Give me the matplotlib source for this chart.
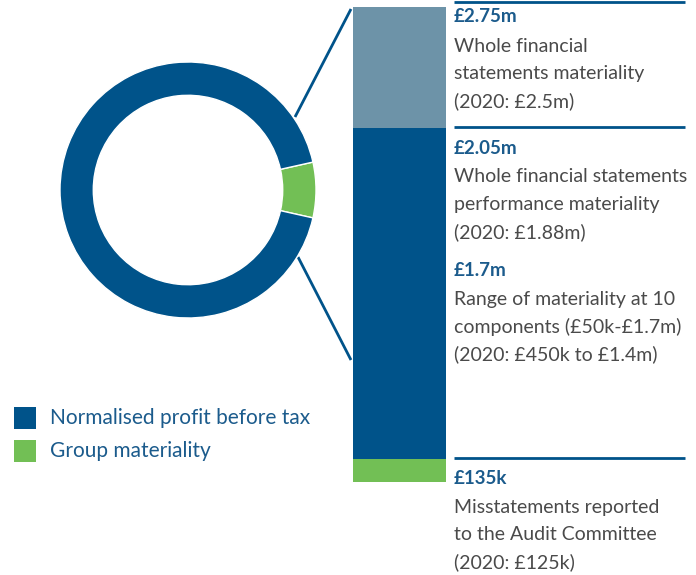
import matplotlib
matplotlib.use('Agg')
import matplotlib.pyplot as plt

# ─── DATA ────────────────────────────────────────────────────────
donut_labels = ["Group materiality", "Normalised profit before tax"]
donut_values = [7, 93]  # share of the ring, %

# Stacked materiality bar (£m), bottom to top
bar_segments = [0.135, 2.05 - 0.135, 2.75 - 2.05]

headings = ["£2.75m", "£2.05m", "£1.7m", "£135k"]
descriptions = [
    ["Whole financial", "statements materiality", "(2020: £2.5m)"],
    ["Whole financial statements", "performance materiality", "(2020: £1.88m)"],
    ["Range of materiality at 10", "components (£50k-£1.7m)", "(2020: £450k to £1.4m)"],
    ["Misstatements reported", "to the Audit Committee", "(2020: £125k)"],
]

# ─── STYLE ───────────────────────────────────────────────────────
DARK_BLUE = '#00538a'
SLATE = '#6d93a8'
GREEN = '#72bf55'
HEAD_BLUE = '#1b5b8c'
GREY = '#4a4a4a'
FONT = ['Lato', 'DejaVu Sans']

W, H = 696, 575
fig = plt.figure(figsize=(W / 100, H / 100), dpi=100)

# overlay in pixel coordinates for rules, connectors and text
ax = fig.add_axes([0, 0, 1, 1])
ax.set_xlim(0, W)
ax.set_ylim(H, 0)
ax.axis('off')

# ─── DONUT ───────────────────────────────────────────────────────
cx, cy, r = 188, 190, 128
ax_d = fig.add_axes([(cx - r) / W, (H - cy - r) / H, 2 * r / W, 2 * r / H])
ax_d.pie(donut_values, colors=[GREEN, DARK_BLUE],
         startangle=-donut_values[0] / 100 * 360 / 2, counterclock=True,
         radius=1, wedgeprops=dict(width=0.26, edgecolor='white', linewidth=1))
ax_d.set_xlim(-1, 1)
ax_d.set_ylim(-1, 1)
ax_d.set_aspect('auto')
ax_d.axis('off')

# ─── STACKED BAR ─────────────────────────────────────────────────
bx0, bx1, by0, by1 = 353, 446, 7, 482
ax_b = fig.add_axes([bx0 / W, (H - by1) / H, (bx1 - bx0) / W, (by1 - by0) / H])
bottom = 0
for val, col in zip(bar_segments, [GREEN, DARK_BLUE, SLATE]):
    ax_b.bar(0, val, width=1, bottom=bottom, color=col, linewidth=0)
    bottom += val
ax_b.set_xlim(-0.5, 0.5)
ax_b.set_ylim(0, sum(bar_segments))
ax_b.axis('off')

# connectors from the ring to the bar
ax.plot([295, 351], [117, 9], color=DARK_BLUE, lw=2, solid_capstyle='butt')
ax.plot([298, 351], [257, 360], color=DARK_BLUE, lw=2, solid_capstyle='butt')

# ─── ANNOTATIONS ─────────────────────────────────────────────────
tx = 454
for y in [2, 127, 458]:
    ax.plot([tx, 685], [y, y], color=DARK_BLUE, lw=2, solid_capstyle='butt')

head_y = [17, 148, 270, 478]
line_h = 27.6
for hy, head, lines in zip(head_y, headings, descriptions):
    ax.text(tx, hy, head, color=HEAD_BLUE, fontsize=13.5, fontweight='bold',
            family=FONT, va='center', ha='left')
    for i, line in enumerate(lines):
        ax.text(tx, hy + 29 + i * line_h, line, color=GREY, fontsize=14,
                fontweight='normal', family=FONT, va='center', ha='left')

# ─── LEGEND ──────────────────────────────────────────────────────
for y, col, lab in [(418, DARK_BLUE, donut_labels[1]), (451, GREEN, donut_labels[0])]:
    ax.add_patch(plt.Rectangle((14, y - 11), 22, 22, color=col, lw=0))
    ax.text(50, y, lab, color=HEAD_BLUE, fontsize=15, fontweight='normal',
            family=FONT, va='center', ha='left')

fig.savefig('out.png', dpi=100)
